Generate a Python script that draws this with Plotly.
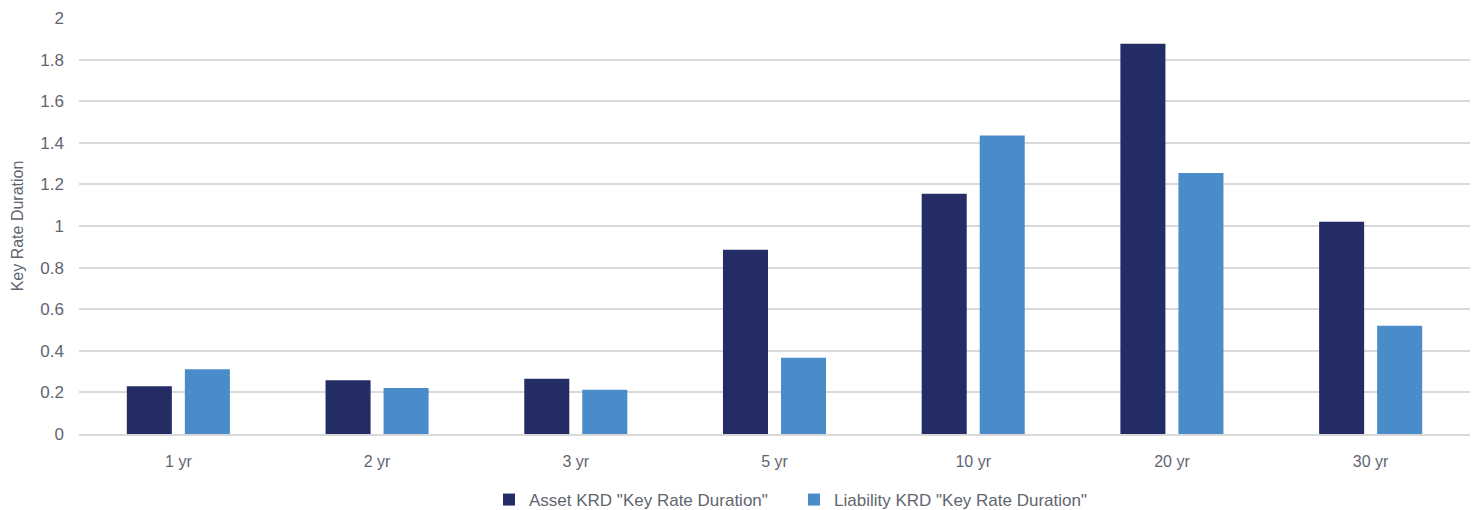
import plotly.graph_objects as go

# Key rate duration by tenor
tenors = ["1 yr", "2 yr", "3 yr", "5 yr", "10 yr", "20 yr", "30 yr"]
asset_krd = [0.23, 0.258, 0.266, 0.886, 1.155, 1.876, 1.021]
liability_krd = [0.311, 0.221, 0.213, 0.367, 1.435, 1.255, 0.52]
y_ticks = [0, 0.2, 0.4, 0.6, 0.8, 1, 1.2, 1.4, 1.6, 1.8, 2]
y_tick_text = ["0", "0.2", "0.4", "0.6", "0.8", "1", "1.2", "1.4", "1.6", "1.8", "2"]

FONT = "Liberation Sans, Arial, sans-serif"
TEXT_COLOR = "#5f6670"

fig = go.Figure()
fig.add_trace(go.Bar(
    x=tenors, y=asset_krd, name='Asset KRD "Key Rate Duration"',
    marker=dict(color="#242c66", line=dict(width=0)),
))
fig.add_trace(go.Bar(
    x=tenors, y=liability_krd, name='Liability KRD "Key Rate Duration"',
    marker=dict(color="#4a8bc9", line=dict(width=0)),
))

fig.update_layout(
    width=1475, height=510,
    margin=dict(l=79, r=5, t=18, b=76, autoexpand=False),
    paper_bgcolor="white", plot_bgcolor="white",
    barmode="group", bargap=0.416, bargroupgap=0.224,
    font=dict(family=FONT, size=16, color=TEXT_COLOR),
    showlegend=True,
    legend=dict(orientation="h", xref="container", yref="container",
                x=489 / 1475, xanchor="left", y=10 / 510, yanchor="middle",
                font=dict(size=17, color=TEXT_COLOR), itemsizing="constant",
                traceorder="normal", entrywidth=260, entrywidthmode="pixels"),
    xaxis=dict(showgrid=False, showline=True, linecolor="#d9d9d9", linewidth=1.5,
               ticks="", ticklabelstandoff=12, tickfont=dict(size=16, color=TEXT_COLOR)),
    yaxis=dict(range=[0, 2], tickvals=y_ticks, ticktext=y_tick_text,
               showgrid=True, gridcolor="#d9d9d9", gridwidth=1.5,
               zeroline=False, showline=False, ticks="", ticklabelstandoff=14,
               tickfont=dict(size=17, color=TEXT_COLOR),
               title=dict(text="Key Rate Duration", font=dict(size=16, color=TEXT_COLOR),
                          standoff=12)),
)

fig.write_html("out.html")
